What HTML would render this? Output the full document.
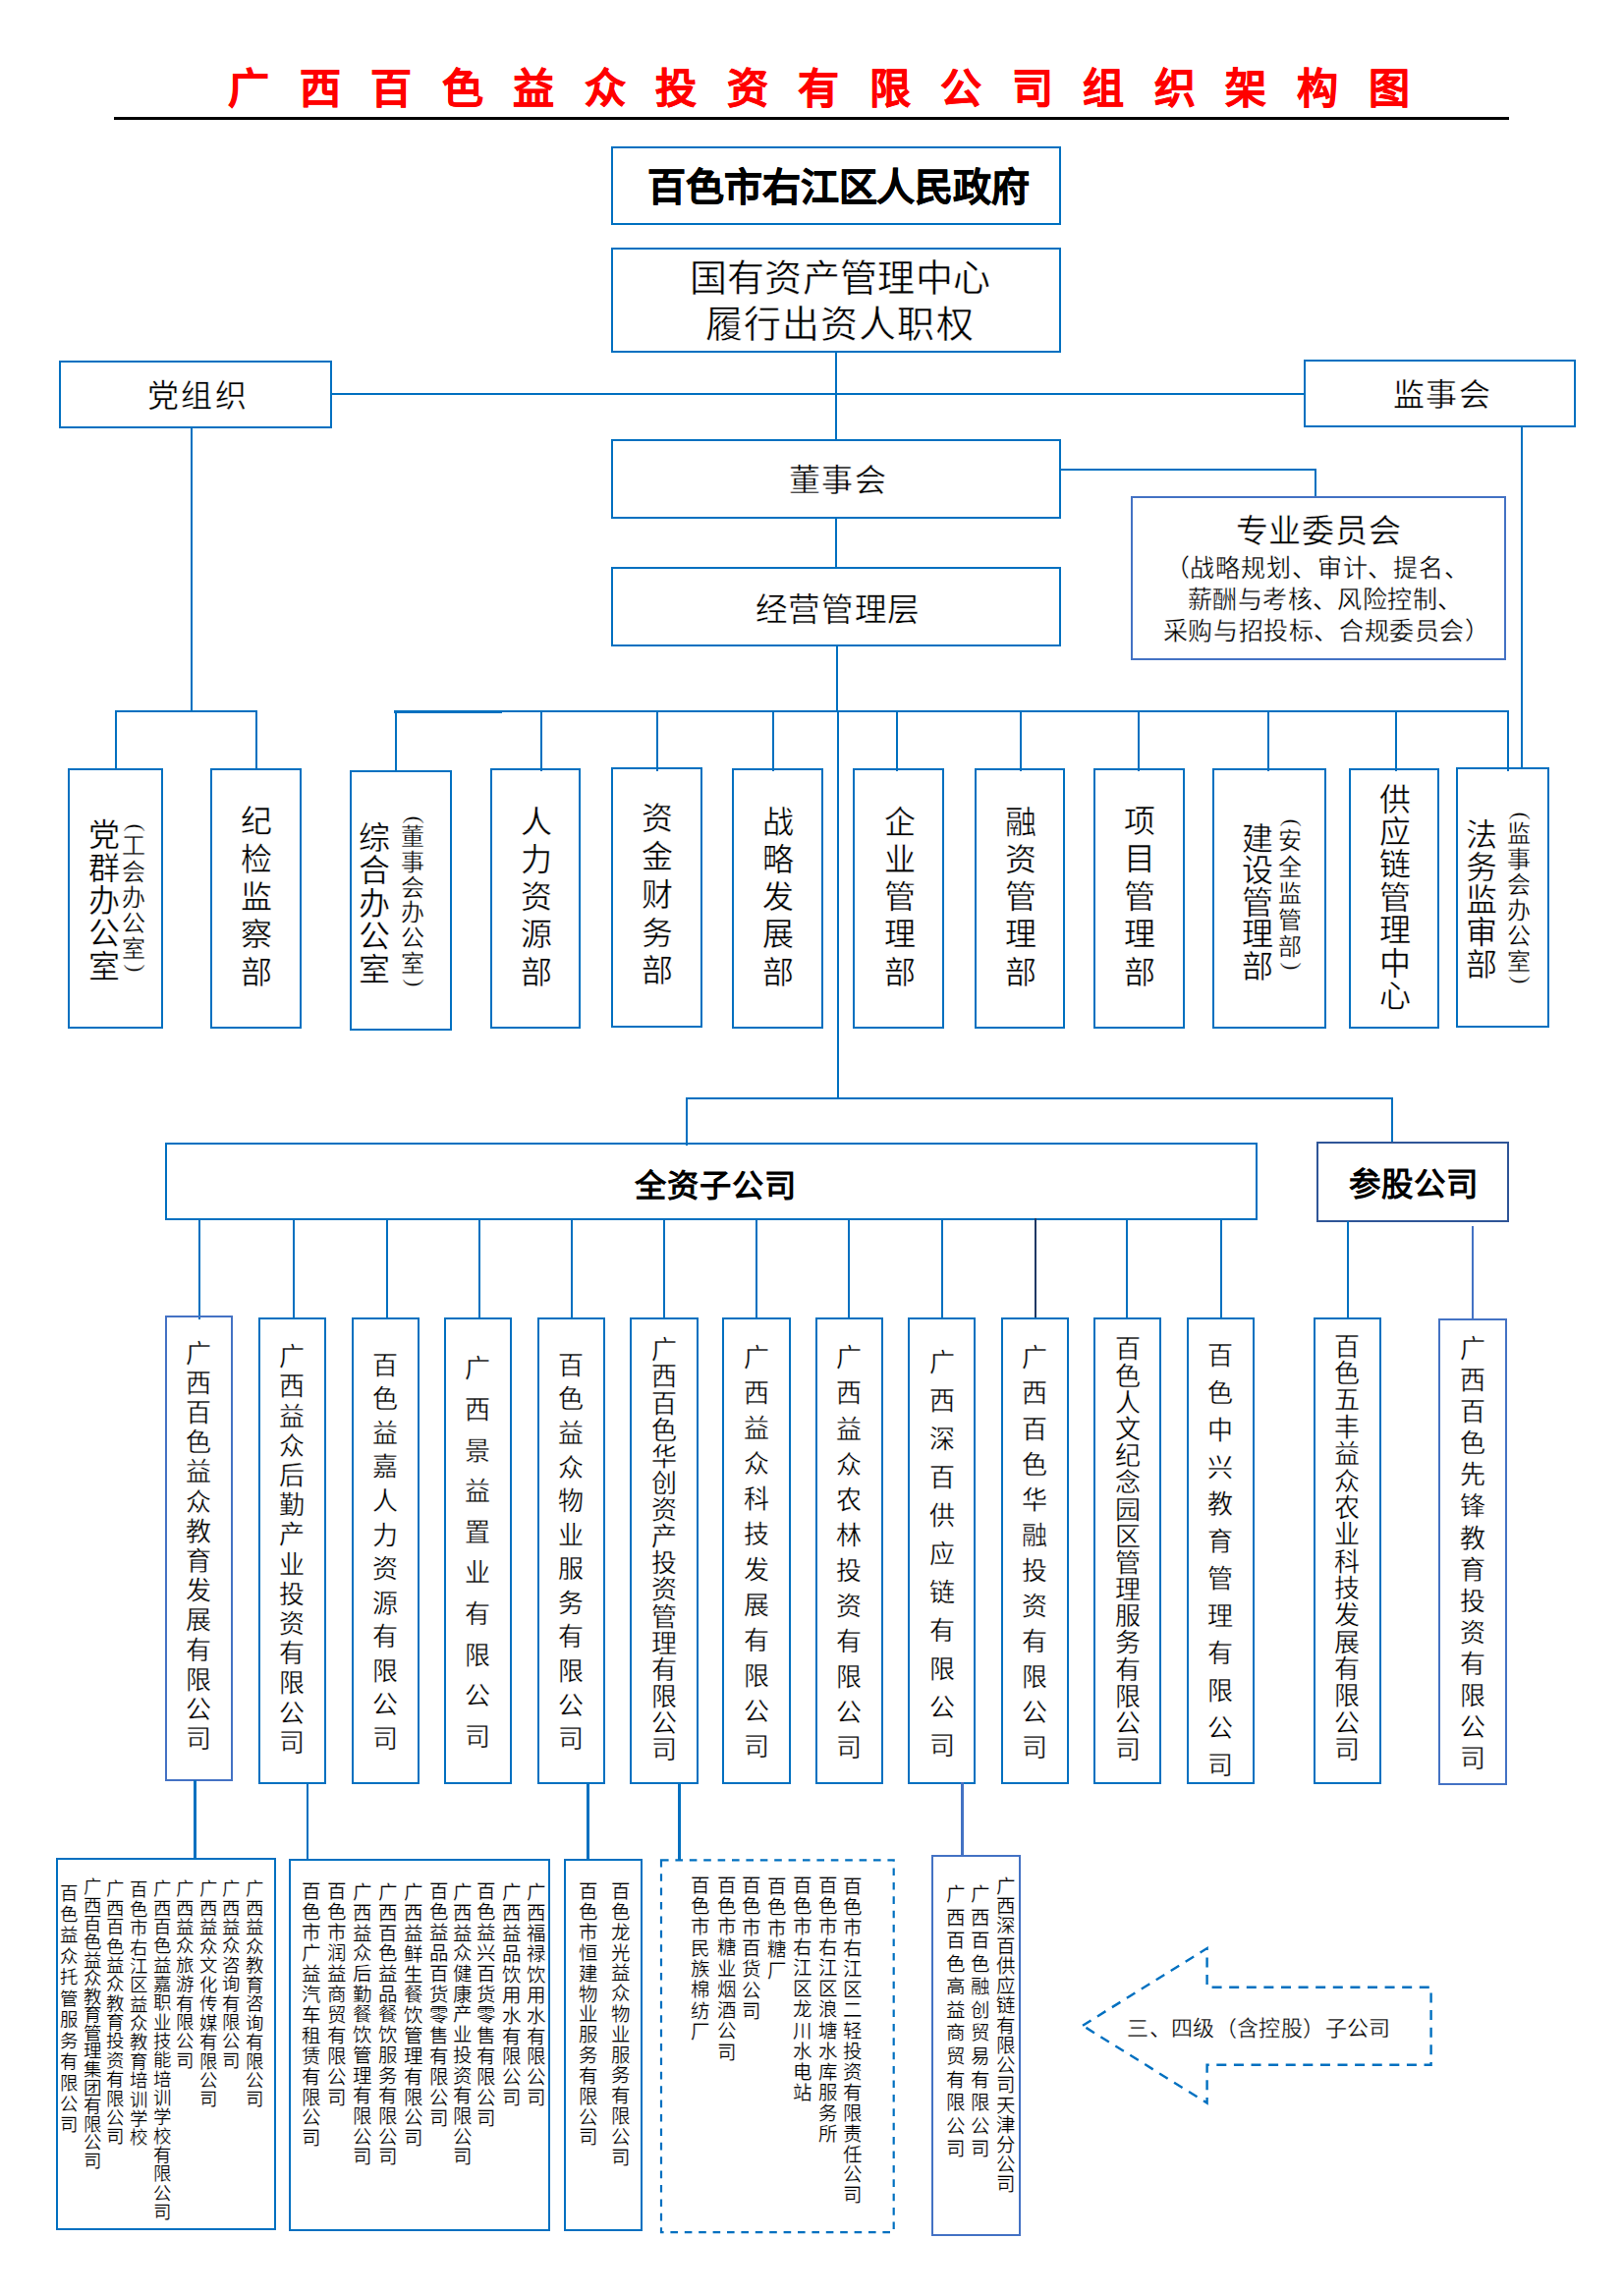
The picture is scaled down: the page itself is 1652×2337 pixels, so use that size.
<!DOCTYPE html>
<html lang="zh-CN">
<head>
<meta charset="utf-8">
<title>广西百色益众投资有限公司组织架构图</title>
<style>
html,body{margin:0;padding:0;background:#fff}
body{width:1652px;height:2337px;overflow:hidden}
.page{position:relative;width:1652px;height:2337px;background:#fff;overflow:hidden;color:#000}
.bx,.ln,.t,.ab{position:absolute}
.bx{box-sizing:border-box}
.t{white-space:nowrap;color:#000}
.se{font-family:"Liberation Serif",serif;-webkit-text-stroke:0.012em #fff}
.bd{font-weight:bold;-webkit-text-stroke:0}
.sa{font-family:"Liberation Sans",sans-serif}
.c{white-space:normal;word-break:break-all;text-align:center}
.c .p{display:block;font-weight:normal;height:11px;line-height:11px;transform:translateX(0.11em) rotate(90deg)}
</style>
</head>
<body>
<div class="page">
<div class="t sa" style="left:198.71px;top:61.66px;width:1300px;line-height:58.8px;font-size:42px;letter-spacing:30.51px;text-align:center;color:#FF0000;font-weight:bold;-webkit-text-stroke:0.5px #FF0000">广西百色益众投资有限公司组织架构图</div>
<div class="ln" style="left:116px;top:119px;width:1420px;height:3px;background:#000"></div>
<div class="bx" style="left:622px;top:148.8px;width:458px;height:79.8px;border:2px solid #0070C0"></div>
<div class="t sa" style="left:203.52px;top:164.14px;width:1300px;line-height:54.6px;font-size:39px;letter-spacing:-0.06px;text-align:center;font-weight:bold;-webkit-text-stroke:0.6px #000">百色市右江区人民政府</div>
<div class="bx" style="left:622px;top:251.6px;width:458px;height:107.5px;border:2px solid #0070C0"></div>
<div class="t se" style="left:205.03px;top:257.24px;width:1300px;line-height:53.2px;font-size:38px;letter-spacing:0.36px;text-align:center;">国有资产管理中心</div>
<div class="t se" style="left:204.72px;top:304px;width:1300px;line-height:53.2px;font-size:38px;letter-spacing:1.14px;text-align:center;">履行出资人职权</div>
<div class="bx" style="left:60.4px;top:366.5px;width:278px;height:69.3px;border:2px solid #0070C0"></div>
<div class="t se" style="left:-448.47px;top:380.96px;width:1300px;line-height:44.8px;font-size:32px;letter-spacing:2.52px;text-align:center;">党组织</div>
<div class="bx" style="left:1326.5px;top:365.8px;width:277.9px;height:69.3px;border:2px solid #0070C0"></div>
<div class="t se" style="left:818.01px;top:379.94px;width:1300px;line-height:44.8px;font-size:32px;letter-spacing:1.44px;text-align:center;">监事会</div>
<div class="ln" style="left:337px;top:400px;width:991px;height:2px;background:#0070C0"></div>
<div class="ln" style="left:849.9px;top:357px;width:2px;height:92px;background:#0070C0"></div>
<div class="bx" style="left:621.8px;top:447.1px;width:458.5px;height:81px;border:2px solid #0070C0"></div>
<div class="t se" style="left:202.98px;top:467.18px;width:1300px;line-height:44.8px;font-size:32px;letter-spacing:1.53px;text-align:center;">董事会</div>
<div class="ln" style="left:850.2px;top:526px;width:2px;height:53px;background:#0070C0"></div>
<div class="bx" style="left:621.8px;top:576.6px;width:458.5px;height:81.7px;border:2px solid #0070C0"></div>
<div class="t se" style="left:202.83px;top:598.62px;width:1300px;line-height:45.64px;font-size:32.6px;letter-spacing:0.63px;text-align:center;">经营管理层</div>
<div class="ln" style="left:851.2px;top:656px;width:2px;height:69px;background:#0070C0"></div>
<div class="ln" style="left:851.6px;top:723px;width:2px;height:396px;background:#0070C0"></div>
<div class="ln" style="left:1078px;top:477.4px;width:261.6px;height:2px;background:#0070C0"></div>
<div class="ln" style="left:1337.6px;top:477.4px;width:2px;height:29.6px;background:#0070C0"></div>
<div class="bx" style="left:1150.9px;top:505px;width:382.1px;height:167.3px;border:2px solid #4472C4"></div>
<div class="t se" style="left:692.14px;top:517.72px;width:1300px;line-height:46.2px;font-size:33px;letter-spacing:0.85px;text-align:center;">专业委员会</div>
<div class="t se" style="left:690.71px;top:560.86px;width:1300px;line-height:35px;font-size:25px;letter-spacing:0.85px;text-align:center;">（战略规划、审计、提名、</div>
<div class="t se" style="left:698.7px;top:592.9px;width:1300px;line-height:35px;font-size:25px;letter-spacing:0.45px;text-align:center;">薪酬与考核、风险控制、</div>
<div class="t se" style="left:700.14px;top:624.72px;width:1300px;line-height:35px;font-size:25px;letter-spacing:0.6px;text-align:center;">采购与招投标、合规委员会）</div>
<div class="ln" style="left:194px;top:434px;width:2px;height:291px;background:#0070C0"></div>
<div class="ln" style="left:117px;top:723px;width:144.6px;height:2px;background:#0070C0"></div>
<div class="ln" style="left:117px;top:724px;width:2px;height:60px;background:#0070C0"></div>
<div class="ln" style="left:259.6px;top:724px;width:2px;height:60px;background:#0070C0"></div>
<div class="ln" style="left:1547.6px;top:433px;width:2px;height:350px;background:#0070C0"></div>
<div class="ln" style="left:401.8px;top:723px;width:1134.6px;height:2px;background:#0070C0"></div>
<div class="ln" style="left:400.8px;top:722.7px;width:109.9px;height:3px;background:#0070C0"></div>
<div class="ln" style="left:401.8px;top:724px;width:2px;height:61px;background:#0070C0"></div>
<div class="ln" style="left:550.2px;top:724px;width:2px;height:61px;background:#0070C0"></div>
<div class="ln" style="left:667.9px;top:724px;width:2px;height:61px;background:#0070C0"></div>
<div class="ln" style="left:786.4px;top:724px;width:2px;height:61px;background:#0070C0"></div>
<div class="ln" style="left:912px;top:724px;width:2px;height:61px;background:#0070C0"></div>
<div class="ln" style="left:1037.7px;top:724px;width:2px;height:61px;background:#0070C0"></div>
<div class="ln" style="left:1157.8px;top:724px;width:2px;height:61px;background:#0070C0"></div>
<div class="ln" style="left:1290.3px;top:724px;width:2px;height:61px;background:#0070C0"></div>
<div class="ln" style="left:1420.1px;top:724px;width:2px;height:61px;background:#0070C0"></div>
<div class="ln" style="left:1534.4px;top:724px;width:2px;height:61px;background:#0070C0"></div>
<div class="bx" style="left:68.8px;top:781.8px;width:97.2px;height:265.5px;border:2px solid #0070C0"></div>
<div class="bx" style="left:214.1px;top:781.8px;width:92.6px;height:265.5px;border:2px solid #0070C0"></div>
<div class="bx" style="left:355.7px;top:783.8px;width:104.3px;height:265.2px;border:2px solid #0070C0"></div>
<div class="bx" style="left:498.7px;top:781.9px;width:92.7px;height:265.2px;border:2px solid #0070C0"></div>
<div class="bx" style="left:621.9px;top:780.8px;width:92.7px;height:265.1px;border:2px solid #0070C0"></div>
<div class="bx" style="left:744.7px;top:781.9px;width:93.3px;height:265.2px;border:2px solid #0070C0"></div>
<div class="bx" style="left:868.3px;top:781.9px;width:92.5px;height:265.2px;border:2px solid #0070C0"></div>
<div class="bx" style="left:991.5px;top:781.9px;width:92.5px;height:265.2px;border:2px solid #0070C0"></div>
<div class="bx" style="left:1113.2px;top:781.9px;width:92.4px;height:265.2px;border:2px solid #0070C0"></div>
<div class="bx" style="left:1234px;top:782px;width:115.5px;height:265.3px;border:2px solid #0070C0"></div>
<div class="bx" style="left:1372.9px;top:782px;width:92.5px;height:265.3px;border:2px solid #0070C0"></div>
<div class="bx" style="left:1481.8px;top:781.1px;width:95.2px;height:265px;border:2px solid #0070C0"></div>
<div class="t c se" style="left:90.4px;top:834.19px;width:32px;font-size:32px;line-height:33.34px">党群办公室</div>
<div class="t c se" style="left:124.3px;top:837.32px;width:24px;font-size:24px;line-height:26.28px"><b class="p">(</b>工会办公室<b class="p">)</b></div>
<div class="t c se" style="left:244.7px;top:817.46px;width:32px;font-size:32px;line-height:38.34px">纪检监察部</div>
<div class="t c se" style="left:364.8px;top:836.93px;width:32px;font-size:32px;line-height:33.49px">综合办公室</div>
<div class="t c se" style="left:408.1px;top:828.88px;width:24px;font-size:24px;line-height:25.86px"><b class="p">(</b>董事会办公室<b class="p">)</b></div>
<div class="t c se" style="left:529.8px;top:817.56px;width:32px;font-size:32px;line-height:38.3px">人力资源部</div>
<div class="t c se" style="left:652.7px;top:813.72px;width:32px;font-size:32px;line-height:38.94px">资金财务部</div>
<div class="t c se" style="left:776px;top:817.56px;width:32px;font-size:32px;line-height:38.3px">战略发展部</div>
<div class="t c se" style="left:899.6px;top:817.56px;width:32px;font-size:32px;line-height:38.3px">企业管理部</div>
<div class="t c se" style="left:1022.7px;top:817.56px;width:32px;font-size:32px;line-height:38.3px">融资管理部</div>
<div class="t c se" style="left:1144.4px;top:816.66px;width:32px;font-size:32px;line-height:38.53px">项目管理部</div>
<div class="t c se" style="left:1263.7px;top:837.72px;width:32px;font-size:32px;line-height:32.55px">建设管理部</div>
<div class="t c se" style="left:1301.3px;top:832.32px;width:24px;font-size:24px;line-height:26.84px"><b class="p">(</b>安全监管部<b class="p">)</b></div>
<div class="t c se" style="left:1404.2px;top:797.65px;width:32px;font-size:32px;line-height:33.38px">供应链管理中心</div>
<div class="t c se" style="left:1491.6px;top:833.82px;width:32px;font-size:32px;line-height:32.99px">法务监审部</div>
<div class="t c se" style="left:1534.3px;top:825.32px;width:24px;font-size:24px;line-height:25.99px"><b class="p">(</b>监事会办公室<b class="p">)</b></div>
<div class="ln" style="left:697.8px;top:1117px;width:720.1px;height:2px;background:#0070C0"></div>
<div class="ln" style="left:697.8px;top:1118px;width:2px;height:48px;background:#0070C0"></div>
<div class="ln" style="left:1416px;top:1118px;width:2px;height:45px;background:#0070C0"></div>
<div class="bx" style="left:168.1px;top:1163px;width:1112.1px;height:79px;border:2px solid #0070C0"></div>
<div class="t se bd" style="left:78.34px;top:1185.33px;width:1300px;line-height:45.22px;font-size:32.3px;letter-spacing:1.08px;text-align:center;">全资子公司</div>
<div class="bx" style="left:1340.3px;top:1161.8px;width:196px;height:82.6px;border:2.5px solid #2F5597"></div>
<div class="t se bd" style="left:789.04px;top:1183.71px;width:1300px;line-height:45.5px;font-size:32.5px;letter-spacing:0.24px;text-align:center;">参股公司</div>
<div class="ln" style="left:201.8px;top:1239.6px;width:2px;height:103.4px;background:#0070C0"></div>
<div class="ln" style="left:297.7px;top:1239.6px;width:2px;height:103.4px;background:#0070C0"></div>
<div class="ln" style="left:393.4px;top:1239.6px;width:2px;height:103.4px;background:#0070C0"></div>
<div class="ln" style="left:486.6px;top:1239.6px;width:2px;height:103.4px;background:#0070C0"></div>
<div class="ln" style="left:580.7px;top:1239.6px;width:2px;height:103.4px;background:#0070C0"></div>
<div class="ln" style="left:674.9px;top:1239.6px;width:2px;height:103.4px;background:#0070C0"></div>
<div class="ln" style="left:769px;top:1239.6px;width:2px;height:103.4px;background:#0070C0"></div>
<div class="ln" style="left:863.2px;top:1239.6px;width:2px;height:103.4px;background:#0070C0"></div>
<div class="ln" style="left:957.8px;top:1239.6px;width:2px;height:103.4px;background:#0070C0"></div>
<div class="ln" style="left:1053px;top:1239.6px;width:2px;height:103.4px;background:#1F3864"></div>
<div class="ln" style="left:1146.1px;top:1239.6px;width:2px;height:103.4px;background:#0070C0"></div>
<div class="ln" style="left:1242.3px;top:1239.6px;width:2px;height:103.4px;background:#0070C0"></div>
<div class="ln" style="left:1370.6px;top:1242.7px;width:2px;height:100.3px;background:#0070C0"></div>
<div class="ln" style="left:1497.8px;top:1247.8px;width:2px;height:96.2px;background:#4472C4"></div>
<div class="bx" style="left:167.8px;top:1339.3px;width:69.3px;height:473.5px;border:2px solid #4472C4"></div>
<div class="t c se" style="left:189.15px;top:1363.61px;width:26px;font-size:26px;line-height:30.21px">广西百色益众教育发展有限公司</div>
<div class="bx" style="left:262.8px;top:1341px;width:69.1px;height:474.9px;border:2px solid #0070C0"></div>
<div class="t c se" style="left:284.05px;top:1367.11px;width:26px;font-size:26px;line-height:30.21px">广西益众后勤产业投资有限公司</div>
<div class="bx" style="left:357.6px;top:1341px;width:69px;height:474.9px;border:2px solid #0070C0"></div>
<div class="t c se" style="left:378.8px;top:1373.55px;width:26px;font-size:26px;line-height:34.6px">百色益嘉人力资源有限公司</div>
<div class="bx" style="left:451.9px;top:1341px;width:69.4px;height:474.9px;border:2px solid #0070C0"></div>
<div class="t c se" style="left:473.3px;top:1373.29px;width:26px;font-size:26px;line-height:41.64px">广西景益置业有限公司</div>
<div class="bx" style="left:546.7px;top:1341px;width:69.1px;height:474.9px;border:2px solid #0070C0"></div>
<div class="t c se" style="left:567.95px;top:1373.84px;width:26px;font-size:26px;line-height:34.58px">百色益众物业服务有限公司</div>
<div class="bx" style="left:641.1px;top:1341px;width:69.5px;height:474.9px;border:2px solid #0070C0"></div>
<div class="t c se" style="left:662.55px;top:1361.32px;width:26px;font-size:26px;line-height:27.13px">广西百色华创资产投资管理有限公司</div>
<div class="bx" style="left:735.4px;top:1341px;width:69.7px;height:474.9px;border:2px solid #0070C0"></div>
<div class="t c se" style="left:756.95px;top:1364.7px;width:26px;font-size:26px;line-height:36.07px">广西益众科技发展有限公司</div>
<div class="bx" style="left:829.9px;top:1341px;width:69.3px;height:474.9px;border:2px solid #0070C0"></div>
<div class="t c se" style="left:851.25px;top:1365.44px;width:26px;font-size:26px;line-height:36.03px">广西益众农林投资有限公司</div>
<div class="bx" style="left:924.4px;top:1341px;width:69.1px;height:474.9px;border:2px solid #0070C0"></div>
<div class="t c se" style="left:945.65px;top:1368.76px;width:26px;font-size:26px;line-height:38.99px">广西深百供应链有限公司</div>
<div class="bx" style="left:1018.9px;top:1341px;width:69.3px;height:474.9px;border:2px solid #0070C0"></div>
<div class="t c se" style="left:1040.25px;top:1365.44px;width:26px;font-size:26px;line-height:36.03px">广西百色华融投资有限公司</div>
<div class="bx" style="left:1113.4px;top:1341px;width:69.1px;height:474.9px;border:2px solid #0070C0"></div>
<div class="t c se" style="left:1134.65px;top:1360.43px;width:26px;font-size:26px;line-height:27.18px">百色人文纪念园区管理服务有限公司</div>
<div class="bx" style="left:1208px;top:1341px;width:68.9px;height:474.9px;border:2px solid #0070C0"></div>
<div class="t c se" style="left:1229.15px;top:1361.81px;width:26px;font-size:26px;line-height:37.91px">百色中兴教育管理有限公司</div>
<div class="bx" style="left:1336.9px;top:1341px;width:68.9px;height:474.9px;border:2px solid #0070C0"></div>
<div class="t c se" style="left:1358.05px;top:1357.8px;width:26px;font-size:26px;line-height:27.35px">百色五丰益众农业科技发展有限公司</div>
<div class="bx" style="left:1464.1px;top:1342.2px;width:70.4px;height:474.6px;border:2px solid #4472C4"></div>
<div class="t c se" style="left:1486px;top:1358.14px;width:26px;font-size:26px;line-height:32.06px">广西百色先锋教育投资有限公司</div>
<div class="ln" style="left:196.9px;top:1811.5px;width:3.2px;height:80.9px;background:#0070C0"></div>
<div class="ln" style="left:312px;top:1814.5px;width:2px;height:79px;background:#0070C0"></div>
<div class="ln" style="left:596.9px;top:1814.5px;width:3px;height:79px;background:#0070C0"></div>
<div class="ln" style="left:689.7px;top:1814.5px;width:3px;height:79px;background:#0070C0"></div>
<div class="ln" style="left:977.9px;top:1814px;width:3px;height:75px;background:#4472C4"></div>
<div class="bx" style="left:57.2px;top:1890.9px;width:223.5px;height:379.5px;border:2px solid #0070C0"></div>
<div class="bx" style="left:294.2px;top:1892.2px;width:265.8px;height:379.2px;border:2px solid #0070C0"></div>
<div class="bx" style="left:573.5px;top:1892.2px;width:80.7px;height:379.2px;border:2px solid #0070C0"></div>
<svg class="ab" style="left:670px;top:1890px" width="244" height="386"><rect x="3" y="3.4" width="236.7" height="378.8" fill="none" stroke="#0070C0" stroke-width="2.2" stroke-dasharray="7.6 6.8"/></svg>
<div class="bx" style="left:947.9px;top:1887.7px;width:91.6px;height:388.3px;border:2px solid #4472C4"></div>
<div class="t c se" style="left:249.75px;top:1914.3px;width:18.5px;font-size:18.5px;line-height:19.47px">广西益众教育咨询有限公司</div>
<div class="t c se" style="left:226.25px;top:1914.34px;width:18.5px;font-size:18.5px;line-height:19.37px">广西益众咨询有限公司</div>
<div class="t c se" style="left:202.95px;top:1914.3px;width:18.5px;font-size:18.5px;line-height:19.47px">广西益众文化传媒有限公司</div>
<div class="t c se" style="left:179.35px;top:1914.34px;width:18.5px;font-size:18.5px;line-height:19.37px">广西益众旅游有限公司</div>
<div class="t c se" style="left:155.75px;top:1914.33px;width:18.5px;font-size:18.5px;line-height:19.35px">广西百色益嘉职业技能培训学校有限公司</div>
<div class="t c se" style="left:131.95px;top:1915.43px;width:18.5px;font-size:18.5px;line-height:19.38px">百色市右江区益众教育培训学校</div>
<div class="t c se" style="left:108.15px;top:1914.33px;width:18.5px;font-size:18.5px;line-height:19.39px">广西百色益众教育投资有限公司</div>
<div class="t c se" style="left:84.65px;top:1912.49px;width:18.5px;font-size:18.5px;line-height:18.54px">广西百色益众教育管理集团有限公司</div>
<div class="t c se" style="left:61.25px;top:1917.57px;width:18.5px;font-size:18.5px;line-height:21.44px">百色益众托管服务有限公司</div>
<div class="t c se" style="left:535.75px;top:1917.19px;width:19.5px;font-size:19.5px;line-height:20.9px">广西福禄饮用水有限公司</div>
<div class="t c se" style="left:510.55px;top:1917.19px;width:19.5px;font-size:19.5px;line-height:20.9px">广西益品饮用水有限公司</div>
<div class="t c se" style="left:485.05px;top:1915.39px;width:19.5px;font-size:19.5px;line-height:20.99px">百色益兴百货零售有限公司</div>
<div class="t c se" style="left:460.85px;top:1917.26px;width:19.5px;font-size:19.5px;line-height:20.71px">广西益众健康产业投资有限公司</div>
<div class="t c se" style="left:436.75px;top:1915.39px;width:19.5px;font-size:19.5px;line-height:20.99px">百色益品百货零售有限公司</div>
<div class="t c se" style="left:410.55px;top:1917.2px;width:19.5px;font-size:19.5px;line-height:20.85px">广西益鲜生餐饮管理有限公司</div>
<div class="t c se" style="left:384.95px;top:1917.26px;width:19.5px;font-size:19.5px;line-height:20.71px">广西百色益品餐饮服务有限公司</div>
<div class="t c se" style="left:358.75px;top:1917.26px;width:19.5px;font-size:19.5px;line-height:20.71px">广西益众后勤餐饮管理有限公司</div>
<div class="t c se" style="left:332.55px;top:1915.39px;width:19.5px;font-size:19.5px;line-height:20.99px">百色市润益商贸有限公司</div>
<div class="t c se" style="left:307.25px;top:1916.3px;width:19.5px;font-size:19.5px;line-height:20.92px">百色市广益汽车租赁有限公司</div>
<div class="t c se" style="left:621.65px;top:1916.36px;width:19.5px;font-size:19.5px;line-height:20.78px">百色龙光益众物业服务有限公司</div>
<div class="t c se" style="left:588.55px;top:1916.34px;width:19.5px;font-size:19.5px;line-height:20.84px">百色市恒建物业服务有限公司</div>
<div class="t c se" style="left:858.35px;top:1909.71px;width:19.5px;font-size:19.5px;line-height:20.98px">百色市右江区二轻投资有限责任公司</div>
<div class="t c se" style="left:832.55px;top:1908.79px;width:19.5px;font-size:19.5px;line-height:21.11px">百色市右江区浪塘水库服务所</div>
<div class="t c se" style="left:806.65px;top:1908.77px;width:19.5px;font-size:19.5px;line-height:21.11px">百色市右江区龙川水电站</div>
<div class="t c se" style="left:780.75px;top:1909.51px;width:19.5px;font-size:19.5px;line-height:21.65px">百色市糖厂</div>
<div class="t c se" style="left:754.55px;top:1908.71px;width:19.5px;font-size:19.5px;line-height:21.4px">百色市百货公司</div>
<div class="t c se" style="left:729.65px;top:1908.74px;width:19.5px;font-size:19.5px;line-height:21.24px">百色市糖业烟酒公司</div>
<div class="t c se" style="left:703.15px;top:1908.73px;width:19.5px;font-size:19.5px;line-height:21.35px">百色市民族棉纺厂</div>
<div class="t c se" style="left:1014.35px;top:1910.95px;width:19.5px;font-size:19.5px;line-height:20.23px">广西深百供应链有限公司天津分公司</div>
<div class="t c se" style="left:988.45px;top:1917.02px;width:19.5px;font-size:19.5px;line-height:23.57px">广西百色融创贸易有限公司</div>
<div class="t c se" style="left:963.25px;top:1917.02px;width:19.5px;font-size:19.5px;line-height:23.57px">广西百色高益商贸有限公司</div>
<svg class="ab" style="left:1090px;top:1970px" width="380" height="185"><path d="M12 91.7 L138.6 13.1 L138.6 52.7 L366.6 52.7 L366.6 131.8 L138.6 131.8 L138.6 170.6 Z" fill="none" stroke="#0070C0" stroke-width="2.4" stroke-dasharray="10 7.6"/></svg>
<div class="t se" style="left:631.51px;top:2049.7px;width:1300px;line-height:30.8px;font-size:22px;letter-spacing:0.39px;text-align:center;">三、四级（含控股）子公司</div>
</div>
</body>
</html>
